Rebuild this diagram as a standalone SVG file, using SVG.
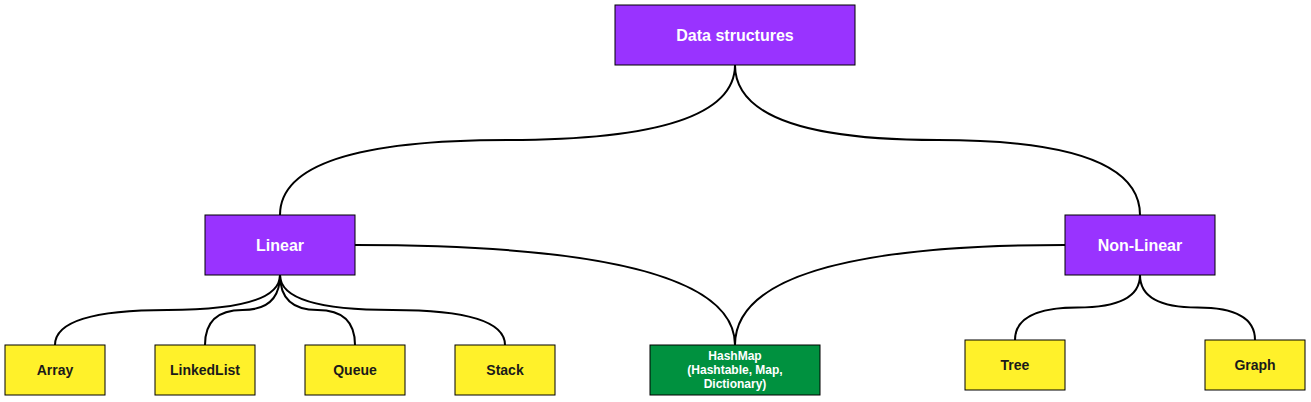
<svg xmlns="http://www.w3.org/2000/svg" width="1311" height="402" viewBox="0 0 1311 402">
<style>
.p{fill:#9933ff;stroke:#000;stroke-width:1}
.y{fill:#fff12a;stroke:#000;stroke-width:1}
.g{fill:#00913f;stroke:#000;stroke-width:1}
.tw{font-family:"Liberation Sans",Arial,sans-serif;font-weight:bold;fill:#fff;text-anchor:middle;dominant-baseline:central}
.tb{font-family:"Liberation Sans",Arial,sans-serif;font-weight:bold;fill:#1a1a1a;font-size:14px;text-anchor:middle;dominant-baseline:central}
.e{fill:none;stroke:#000;stroke-width:2}
</style>
<rect width="1311" height="402" fill="#fff"/>
<g id="connectors">
<path class="e" d="M735 65 Q735 140 507.5 140 Q280 140 280 215"/>
<path class="e" d="M735 65 Q735 140 937.5 140 Q1140 140 1140 215"/>
<path class="e" d="M280 275 Q280 310 167.5 310 Q55 310 55 345"/>
<path class="e" d="M280 275 Q280 310 242.5 310 Q205 310 205 345"/>
<path class="e" d="M280 275 Q280 310 317.5 310 Q355 310 355 345"/>
<path class="e" d="M280 275 Q280 310 392.5 310 Q505 310 505 345"/>
<path class="e" d="M355 245 Q735 245 735 345"/>
<path class="e" d="M1065 245 Q735 245 735 345"/>
<path class="e" d="M1140 275 Q1140 307.5 1077.5 307.5 Q1015 307.5 1015 340"/>
<path class="e" d="M1140 275 Q1140 307.5 1197.5 307.5 Q1255 307.5 1255 340"/>
</g>
<g id="data-structures"><rect class="p" x="615" y="5" width="240" height="60"/><text class="tw" x="735" y="35" font-size="16">Data structures</text></g>
<g id="linear"><rect class="p" x="205" y="215" width="150" height="60"/><text class="tw" x="280" y="245" font-size="16">Linear</text></g>
<g id="non-linear"><rect class="p" x="1065" y="215" width="150" height="60"/><text class="tw" x="1140" y="245" font-size="16">Non-Linear</text></g>
<g id="array"><rect class="y" x="5" y="345" width="100" height="50"/><text class="tb" x="55" y="370">Array</text></g>
<g id="linkedlist"><rect class="y" x="155" y="345" width="100" height="50"/><text class="tb" x="205" y="370">LinkedList</text></g>
<g id="queue"><rect class="y" x="305" y="345" width="100" height="50"/><text class="tb" x="355" y="370">Queue</text></g>
<g id="stack"><rect class="y" x="455" y="345" width="100" height="50"/><text class="tb" x="505" y="370">Stack</text></g>
<g id="hashmap"><rect class="g" x="650" y="345" width="170" height="50"/>
<text class="tw" x="735" y="356" font-size="12">HashMap</text>
<text class="tw" x="735" y="370" font-size="12">(Hashtable, Map,</text>
<text class="tw" x="735" y="384" font-size="12">Dictionary)</text></g>
<g id="tree"><rect class="y" x="965" y="340" width="100" height="50"/><text class="tb" x="1015" y="365">Tree</text></g>
<g id="graph"><rect class="y" x="1205" y="340" width="100" height="50"/><text class="tb" x="1255" y="365">Graph</text></g>
</svg>
